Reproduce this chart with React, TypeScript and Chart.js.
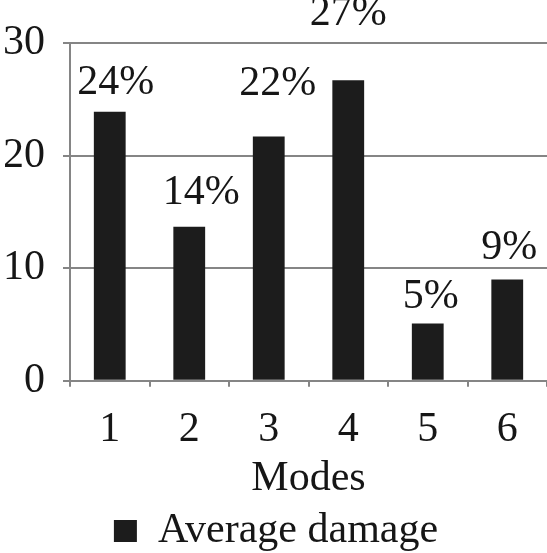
import React, { useEffect, useRef } from 'react';
import { Chart, registerables } from 'chart.js';

Chart.register(...registerables);

// ---- data ----
const categories = ['1', '2', '3', '4', '5', '6'];
const averageDamage = [23.9, 13.7, 21.7, 26.7, 5.1, 9.0];
const percentLabels = ['24%', '14%', '22%', '27%', '5%', '9%'];
const seriesName = 'Average damage';
const axisTitle = 'Modes';
const labelledTicks = [0, 10, 20, 30];

const FONT = "'Liberation Serif', 'Times New Roman', serif";
const TEXT = '#161616';
const GRID = '#858585';
const BAR = '#1c1c1c';

const barLabelPlugin = {
  id: 'barLabels',
  afterDatasetsDraw(chart: any, _args: any, opts: any) {
    const meta = chart.getDatasetMeta(0);
    const ctx = chart.ctx;
    ctx.save();
    ctx.font = `42px ${FONT}`;
    ctx.fillStyle = TEXT;
    ctx.textAlign = 'center';
    ctx.textBaseline = 'alphabetic';
    meta.data.forEach((bar: any, i: number) => {
      const off = opts.offsets[i] || [0, 15];
      ctx.fillText(opts.labels[i], bar.x + off[0], bar.y - off[1]);
    });
    ctx.restore();
  },
};

export default function App() {
  const ref = useRef<HTMLCanvasElement | null>(null);

  useEffect(() => {
    if (!ref.current) return;
    const chart = new Chart(ref.current, {
      type: 'bar',
      data: {
        labels: categories,
        datasets: [
          {
            label: seriesName,
            data: averageDamage,
            backgroundColor: BAR,
            borderWidth: 0,
            barPercentage: 0.4,
            categoryPercentage: 1,
          },
        ],
      },
      plugins: [barLabelPlugin],
      options: {
        animation: false,
        responsive: true,
        maintainAspectRatio: false,
        layout: { padding: { top: 43, left: 5, right: 0, bottom: -9 } },
        scales: {
          x: {
            grid: {
              display: true,
              drawOnChartArea: false,
              drawTicks: true,
              tickLength: 6,
              color: GRID,
              lineWidth: 2,
            },
            border: { display: true, color: GRID, width: 2 },
            ticks: {
              color: TEXT,
              font: { family: FONT, size: 42, lineHeight: 0.9 },
              padding: 24,
              maxRotation: 0,
            },
            title: {
              display: true,
              text: axisTitle,
              color: TEXT,
              font: { family: FONT, size: 42 },
              padding: { top: -19, bottom: 6 },
            },
          },
          y: {
            min: 0,
            max: 30,
            afterFit: (s: any) => {
              s.width = 65;
            },
            grid: {
              color: GRID,
              lineWidth: 2,
              drawTicks: true,
              tickLength: 7,
            },
            border: { display: true, color: GRID, width: 2 },
            ticks: {
              stepSize: 5,
              color: TEXT,
              font: { family: FONT, size: 42 },
              padding: 18,
              callback: (v: any) => (labelledTicks.includes(Number(v)) ? String(v) : null),
            },
          },
        },
        plugins: {
          legend: {
            display: true,
            position: 'bottom',
            labels: {
              boxWidth: 23,
              boxHeight: 22,
              color: TEXT,
              font: { family: FONT, size: 42, lineHeight: 1 },
              padding: 0,
            },
          },
          tooltip: { enabled: false },
          barLabels: {
            labels: percentLabels,
            offsets: [
              [6, 18],
              [12, 23],
              [9, 42],
              [0, 55],
              [3, 15],
              [2, 21],
            ],
          },
        } as any,
      },
    });
    return () => chart.destroy();
  }, []);

  return (
    <div style={{ position: 'fixed', left: 0, top: 0, width: 547, height: 553, background: '#fff' }}>
      <canvas ref={ref} />
    </div>
  );
}
